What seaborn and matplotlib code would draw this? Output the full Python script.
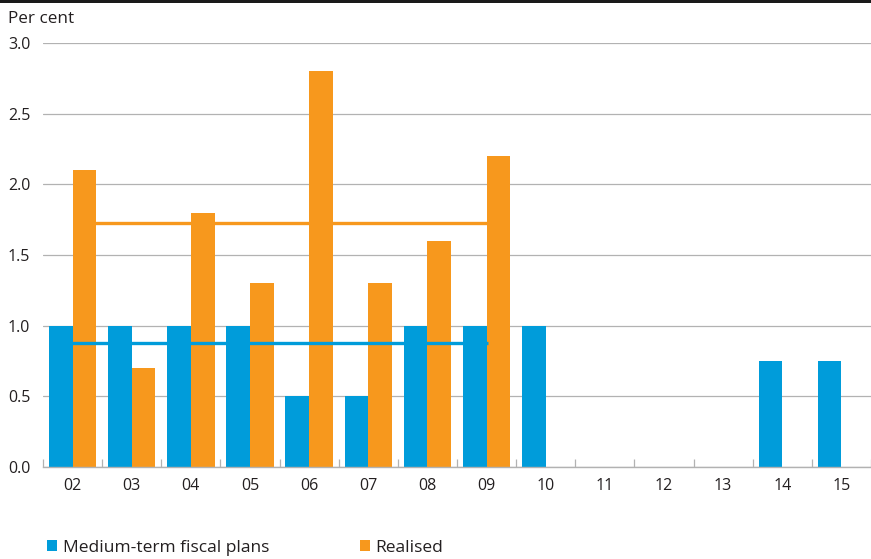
import numpy as np
import pandas as pd
import matplotlib
matplotlib.use("Agg")
import matplotlib.pyplot as plt
from matplotlib.patches import Patch, Rectangle
import seaborn as sns

# ---- data ----
years = ['02', '03', '04', '05', '06', '07', '08', '09', '10', '11', '12', '13', '14', '15']
plans = [1.0, 1.0, 1.0, 1.0, 0.5, 0.5, 1.0, 1.0, 1.0, np.nan, np.nan, np.nan, 0.75, 0.75]
realised = [2.1, 0.7, 1.8, 1.3, 2.8, 1.3, 1.6, 2.2, np.nan, np.nan, np.nan, np.nan, np.nan, np.nan]
plans_avg = 0.875
realised_avg = 1.725
avg_first, avg_last = '02', '09'
yticks = [0.0, 0.5, 1.0, 1.5, 2.0, 2.5, 3.0]
series_names = ['Medium-term fiscal plans', 'Realised']

BLUE = '#009CDA'
ORANGE = '#F7981D'
TEXT = '#231F20'
GRID = '#B2B2B2'

sns.set_theme(style='white')
plt.rcParams['font.family'] = ['Open Sans', 'DejaVu Sans']

df = pd.DataFrame({
    'year': years * 2,
    'series': [series_names[0]] * len(years) + [series_names[1]] * len(years),
    'value': plans + realised,
}).dropna()

W, H = 871, 559
fig = plt.figure(figsize=(W / 100, H / 100), dpi=100)
ax = fig.add_axes([43 / W, 1 - 467 / H, 1 - 43 / W, (467 - 43) / H])

sns.barplot(data=df, x='year', y='value', hue='series', order=years,
            hue_order=series_names, palette=[BLUE, ORANGE], saturation=1,
            width=0.8, errorbar=None, legend=False, ax=ax, zorder=2,
            linewidth=0, edgecolor='none')

i0, i1 = years.index(avg_first), years.index(avg_last)
ax.plot([i0 - 0.38, i1 + 0.02], [plans_avg, plans_avg], color=BLUE, lw=2.4,
        solid_capstyle='butt', zorder=3)
ax.plot([i0, i1], [realised_avg, realised_avg], color=ORANGE, lw=2.4,
        solid_capstyle='butt', zorder=3)

ax.set_xlim(-0.5, -0.5 + (W - 43) / 59.5)
ax.set_ylim(0, 3.0)
ax.set_yticks(yticks)
ax.set_yticklabels([f'{v:.1f}' for v in yticks])
ax.set_xlabel('')
ax.set_ylabel('')

for s in ['top', 'right', 'left']:
    ax.spines[s].set_visible(False)
ax.spines['bottom'].set_color(GRID)
ax.spines['bottom'].set_linewidth(1.0)

ax.yaxis.grid(True, color=GRID, lw=0.9)
ax.set_axisbelow(True)

ax.tick_params(axis='y', length=0, labelsize=11.5, labelcolor=TEXT)
ax.tick_params(axis='x', which='major', length=0, pad=8, labelsize=11.5, labelcolor=TEXT)
ax.set_xticks(np.arange(-0.5, len(years), 1.0), minor=True)
ax.tick_params(axis='x', which='minor', bottom=True, direction='in', length=6,
               width=0.9, color=GRID)
ax.yaxis.set_tick_params(pad=0)
for lab in ax.get_yticklabels():
    lab.set_horizontalalignment('left')
    lab.set_transform(ax.get_yaxis_transform())
    lab.set_position((-35 / (W - 43), lab.get_position()[1]))

fig.text(8 / W, 1 - 19 / H, 'Per cent', fontsize=12.3, color=TEXT, va='center', ha='left')

fig.add_artist(Rectangle((0, 1 - 3 / H), 1, 3 / H, transform=fig.transFigure,
                         color='#1a1a1a', lw=0))

for name, col, xpos in [(series_names[0], BLUE, 47), (series_names[1], ORANGE, 360)]:
    leg = fig.legend(handles=[Patch(facecolor=col, edgecolor='none', label=name)],
                     loc='center left', bbox_to_anchor=(xpos / W, 1 - 548 / H),
                     frameon=False, fontsize=12.5, handlelength=0.6, handleheight=0.6,
                     handletextpad=0.3, borderpad=0, borderaxespad=0)
    for t in leg.get_texts():
        t.set_color(TEXT)

fig.savefig('out.png', dpi=100)
